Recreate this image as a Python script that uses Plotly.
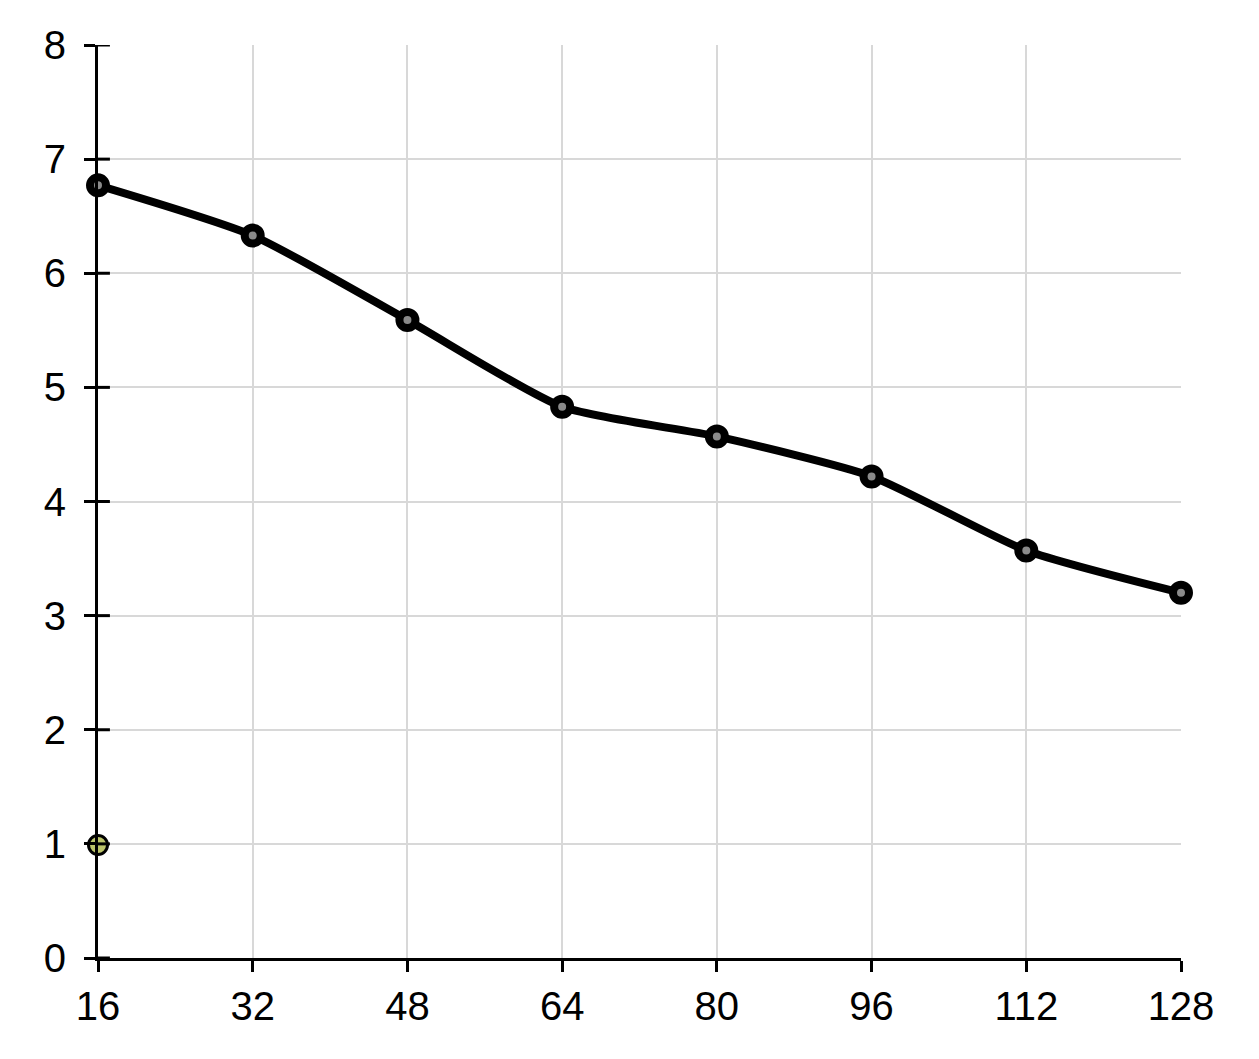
import plotly.graph_objects as go

# -------------------------------------------------
# Data
# -------------------------------------------------
x_values = [16, 32, 48, 64, 80, 96, 112, 128]
y_values = [6.77, 6.33, 5.59, 4.83, 4.57, 4.22, 3.57, 3.20]

extra_x = [16]
extra_y = [0.99]

x_ticks = [16, 32, 48, 64, 80, 96, 112, 128]
y_ticks = [0, 1, 2, 3, 4, 5, 6, 7, 8]

fig = go.Figure()

# main smoothed series
fig.add_trace(go.Scatter(
    x=x_values,
    y=y_values,
    mode="lines+markers",
    line=dict(color="black", width=8, shape="spline", smoothing=0.6),
    marker=dict(size=16, color="#8a8a8a", line=dict(color="black", width=8)),
    cliponaxis=False,
    showlegend=False,
))

# lone point near the bottom
fig.add_trace(go.Scatter(
    x=extra_x,
    y=extra_y,
    mode="markers",
    marker=dict(size=19, color="#bcc46a", line=dict(color="black", width=3)),
    cliponaxis=False,
    showlegend=False,
))

# inner half of the crossing y tick marks
for v in y_ticks:
    fig.add_shape(type="line", xref="x domain", yref="y",
                  x0=0, x1=0.011, y0=v, y1=v,
                  line=dict(color="black", width=3), layer="above")

axis_font = dict(family="Liberation Sans, Arial, sans-serif", size=40, color="black")

fig.update_layout(
    width=1259,
    height=1059,
    paper_bgcolor="white",
    plot_bgcolor="white",
    margin=dict(l=90, r=86, t=37, b=109),
    xaxis=dict(
        range=[16, 128],
        tickvals=x_ticks,
        ticks="outside",
        ticklen=11,
        tickwidth=3,
        tickcolor="black",
        showgrid=True,
        gridcolor="#d8d8d8",
        gridwidth=2,
        showline=True,
        linecolor="black",
        linewidth=3,
        zeroline=False,
        tickfont=axis_font,
    ),
    yaxis=dict(
        range=[0, 8],
        tickvals=y_ticks,
        ticks="outside",
        ticklen=11,
        tickwidth=3,
        tickcolor="black",
        showgrid=True,
        gridcolor="#d8d8d8",
        gridwidth=2,
        showline=True,
        linecolor="black",
        linewidth=3,
        zeroline=False,
        tickfont=axis_font,
        ticklabelstandoff=10,
    ),
)

fig.write_html("out.html")
